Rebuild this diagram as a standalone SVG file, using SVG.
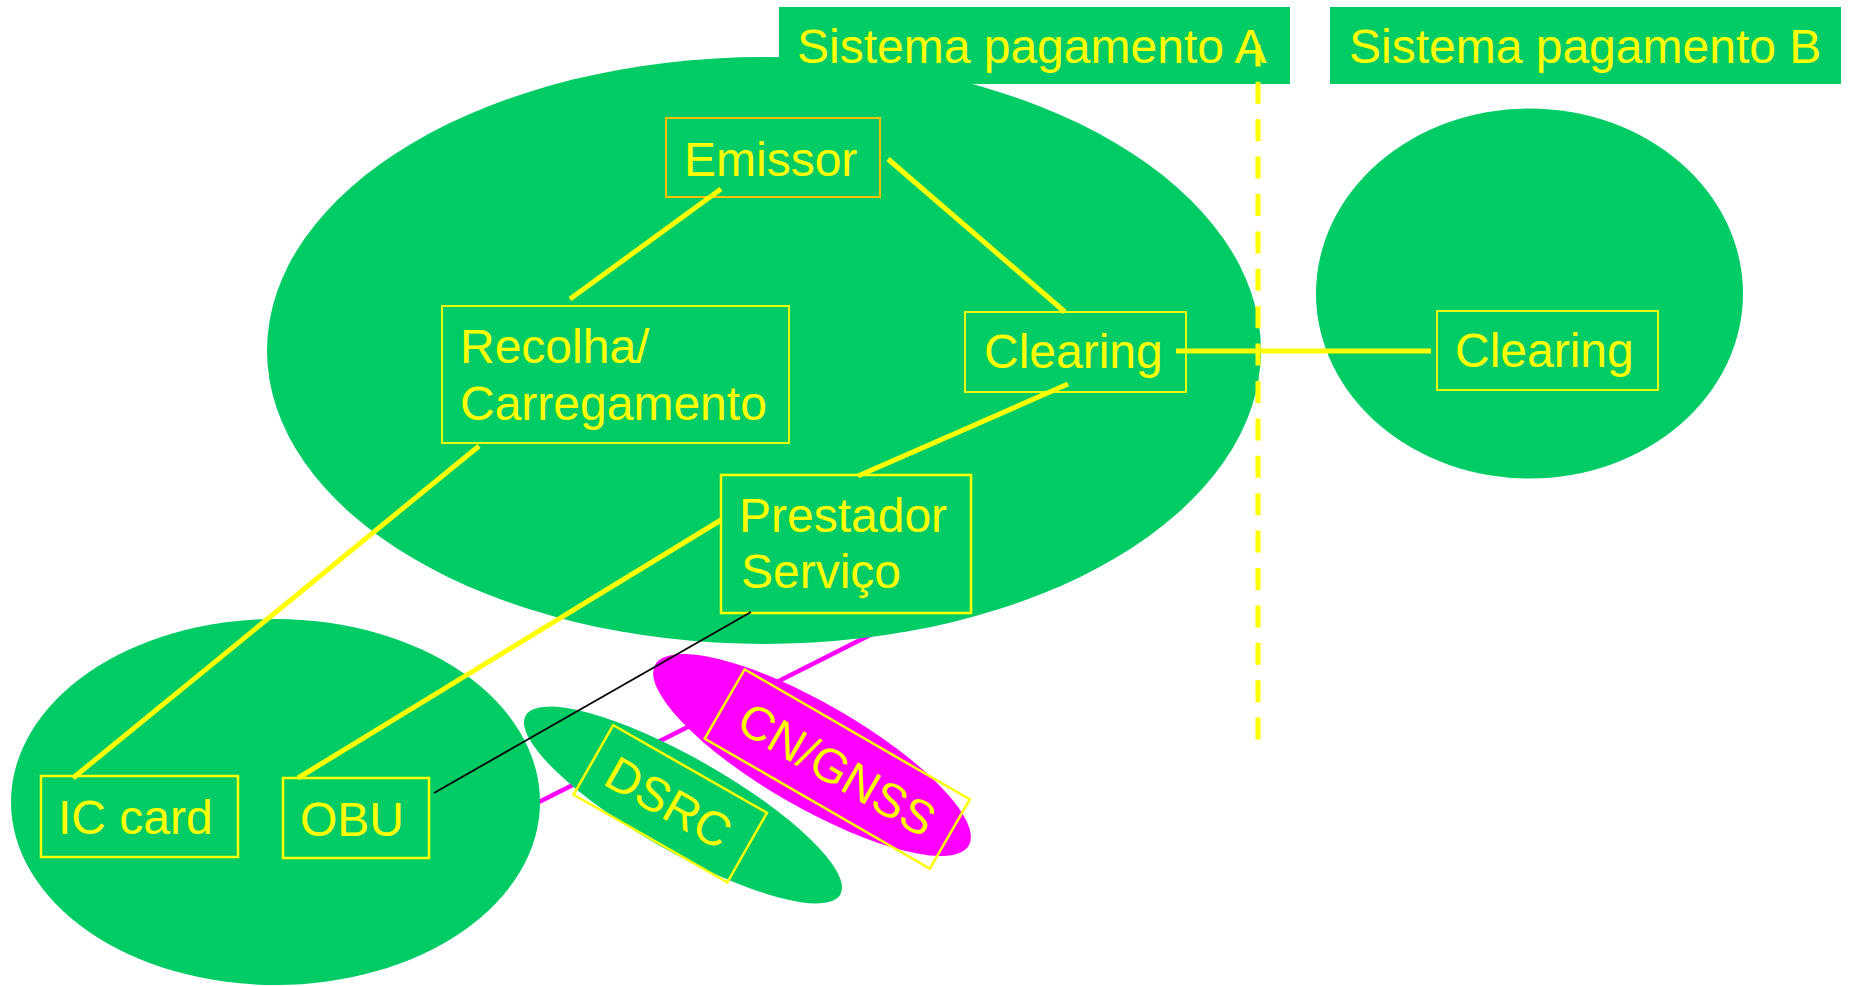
<svg xmlns="http://www.w3.org/2000/svg" width="1849" height="986" viewBox="0 0 1849 986">
<style>
.g{fill:#00CC66}
.m{fill:#FF00FF}
.t{font-family:"Liberation Sans",Arial,sans-serif;font-size:48px;fill:#FFFF00}
.box{fill:none;stroke:#FFFF00;stroke-width:2.5}
.thin{fill:none;stroke:#FFFF00;stroke-width:1.8}
.yl{stroke:#FFFF00;stroke-width:5;fill:none}
</style>
<rect width="1849" height="986" fill="#FFFFFF"/>
<g id="link-magenta">
<line x1="539" y1="802" x2="880" y2="630" stroke="#FF00FF" stroke-width="4.5"/>
</g>
<g id="areas">
<ellipse id="area-A" class="g" cx="764" cy="350.5" rx="497" ry="293.5"/>
<ellipse id="area-B" class="g" cx="1529.5" cy="293.5" rx="213.5" ry="185"/>
<ellipse id="area-user" class="g" cx="275.5" cy="802" rx="264.5" ry="183"/>
</g>
<g id="title-A">
<rect class="g" x="779" y="7" width="511" height="77"/>
<text class="t" x="797" y="63">Sistema pagamento A</text>
</g>
<g id="title-B">
<rect class="g" x="1330" y="7" width="511" height="77"/>
<text class="t" x="1349" y="63">Sistema pagamento B</text>
</g>
<g id="dsrc">
<ellipse class="g" cx="683" cy="805" rx="181" ry="47" transform="rotate(29.65 683 805)"/>
<g transform="translate(670.25 803.75) rotate(29.7)">
<rect class="box" x="-88.5" y="-40" width="177" height="80"/>
<text class="t" x="-2" y="16.5" text-anchor="middle">DSRC</text>
</g>
</g>
<g id="cn-gnss">
<ellipse class="m" cx="812" cy="755" rx="181" ry="52" transform="rotate(30 812 755)"/>
<g transform="translate(837.25 769) rotate(30)">
<rect class="box" x="-130" y="-40" width="260" height="80"/>
<text class="t" x="0" y="17" text-anchor="middle">CN/GNSS</text>
</g>
</g>
<g id="emissor">
<rect x="666" y="118" width="214" height="79" fill="none" stroke="#FFC000" stroke-width="2"/>
<text class="t" x="684" y="176">Emissor</text>
</g>
<g id="recolha">
<rect class="thin" x="442" y="306" width="347" height="137"/>
<text class="t" x="460" y="363">Recolha/</text>
<text class="t" x="460" y="420">Carregamento</text>
</g>
<g id="clearing-A">
<rect class="thin" x="965" y="312" width="221" height="80"/>
<text class="t" x="984" y="368">Clearing</text>
</g>
<g id="prestador">
<rect class="box" x="721" y="475" width="250" height="138"/>
<text class="t" x="739" y="532">Prestador</text>
<text class="t" x="741" y="588">Serviço</text>
</g>
<g id="clearing-B">
<rect class="thin" x="1437" y="311" width="221" height="79"/>
<text class="t" x="1455" y="367">Clearing</text>
</g>
<g id="ic-card">
<rect class="box" x="41" y="776" width="197" height="81"/>
<text class="t" x="58" y="834">IC card</text>
</g>
<g id="obu">
<rect class="box" x="283" y="778" width="146" height="80"/>
<text class="t" x="300" y="836">OBU</text>
</g>
<g id="connectors">
<line class="yl" x1="721" y1="189" x2="570" y2="299"/>
<line class="yl" x1="888" y1="159" x2="1065" y2="312"/>
<line class="yl" x1="1176" y1="351" x2="1431" y2="351"/>
<line class="yl" x1="1068" y1="384" x2="858" y2="476"/>
<line class="yl" x1="479" y1="446" x2="73" y2="778"/>
<line class="yl" x1="721" y1="520" x2="298" y2="778"/>
<line x1="751" y1="612" x2="434" y2="793" stroke="#000000" stroke-width="1.8"/>
<line class="yl" x1="1258" y1="44.4" x2="1258" y2="740" stroke-dasharray="22 15.4"/>
</g>
</svg>
